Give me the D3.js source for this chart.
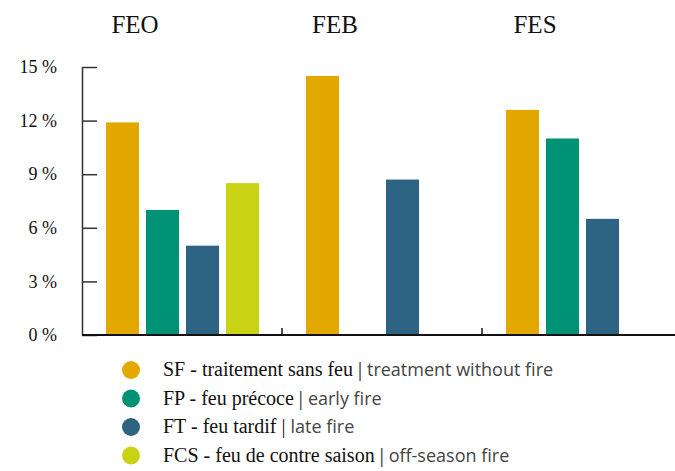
<!DOCTYPE html>
<html>
<head>
<meta charset="utf-8">
<script src="https://cdn.jsdelivr.net/npm/d3@7"></script>
<style>
  body { margin: 0; background: #fff; }
  svg { display: block; }
</style>
</head>
<body>
<div id="chart"></div>
<script>
const W = 675, H = 471;
const SERIF = '"Liberation Serif", "DejaVu Serif", serif';
const SANS = '"Open Sans", "Liberation Sans", sans-serif';

const groups = ['FEO', 'FEB', 'FES'];
const series = ['SF', 'FP', 'FT', 'FCS'];
// values in %, null = no bar
const sfValues  = [11.9, 14.5, 12.6];
const fpValues  = [7.0, null, 11.0];
const ftValues  = [5.0, 8.7, 6.5];
const fcsValues = [8.5, null, null];
const yTicks = [0, 3, 6, 9, 12, 15];

const colors = ['#e3a800', '#009274', '#2e6483', '#c9d213'];
const labelsFr = ['SF - traitement sans feu', 'FP - feu précoce', 'FT - feu tardif', 'FCS - feu de contre saison'];
const labelsEn = ['treatment without fire', 'early fire', 'late fire', 'off-season fire'];

const valuesBySeries = [sfValues, fpValues, ftValues, fcsValues];
const rows = [];
groups.forEach((g, gi) => {
  series.forEach((s, si) => {
    if (valuesBySeries[si][gi] != null) rows.push({ group: g, series: s, value: valuesBySeries[si][gi] });
  });
});

const svg = d3.select('#chart').append('svg')
  .attr('width', W)
  .attr('height', H);

const x0 = d3.scaleBand().domain(groups).range([82, 682]);
const x1 = d3.scaleBand().domain(series).range([24, 177]).paddingInner(0.175);
const y = d3.scaleLinear().domain([0, 15]).range([335, 67]);
const color = d3.scaleOrdinal().domain(series).range(colors);

// bars
svg.append('g')
  .selectAll('rect')
  .data(rows)
  .enter().append('rect')
  .attr('x', d => x0(d.group) + x1(d.series))
  .attr('y', d => y(d.value))
  .attr('width', x1.bandwidth())
  .attr('height', d => y(0) - y(d.value))
  .attr('fill', d => color(d.series));

// y axis
const yAxis = svg.append('g')
  .attr('transform', 'translate(82,0)')
  .call(d3.axisLeft(y).tickValues(yTicks).tickSizeInner(-15).tickSizeOuter(0).tickPadding(25)
    .tickFormat(d => d + ' %'));
yAxis.attr('font-family', SERIF);
yAxis.select('.domain').attr('stroke', '#333').attr('stroke-width', 1.5);
yAxis.selectAll('.tick line').attr('stroke', '#333').attr('stroke-width', 1.5);
yAxis.selectAll('.tick text')
  .style('font-family', SERIF)
  .attr('font-size', 18)
  .attr('fill', '#111');

// baseline with group separators
svg.append('line')
  .attr('x1', 82).attr('x2', W)
  .attr('y1', y(0)).attr('y2', y(0))
  .attr('stroke', '#111').attr('stroke-width', 2);
svg.append('g')
  .selectAll('line')
  .data(groups.slice(1))
  .enter().append('line')
  .attr('x1', d => x0(d)).attr('x2', d => x0(d))
  .attr('y1', y(0)).attr('y2', y(0) - 7)
  .attr('stroke', '#111').attr('stroke-width', 1.5);

// group titles
svg.append('g')
  .selectAll('text')
  .data(groups)
  .enter().append('text')
  .style('font-family', SERIF)
  .attr('x', d => x0(d) + x0.bandwidth() * 0.265)
  .attr('y', 33)
  .attr('text-anchor', 'middle')
  .attr('font-size', 25)
  .attr('fill', '#111')
  .text(d => d);

// legend
const legend = svg.append('g')
  .selectAll('g')
  .data(series)
  .enter().append('g')
  .attr('transform', (d, i) => `translate(131,${370 + i * 28.5})`);

legend.append('circle')
  .attr('r', 9)
  .attr('fill', d => color(d));

const lt = legend.append('text')
  .attr('x', 32)
  .attr('y', 6);
lt.append('tspan')
  .style('font-family', SERIF)
  .attr('font-size', 20)
  .attr('fill', '#111')
  .text((d, i) => labelsFr[i] + ' | ');
lt.append('tspan')
  .style('font-family', SANS)
  .attr('font-size', 18)
  .attr('fill', '#444')
  .text((d, i) => labelsEn[i]);
</script>
</body>
</html>
